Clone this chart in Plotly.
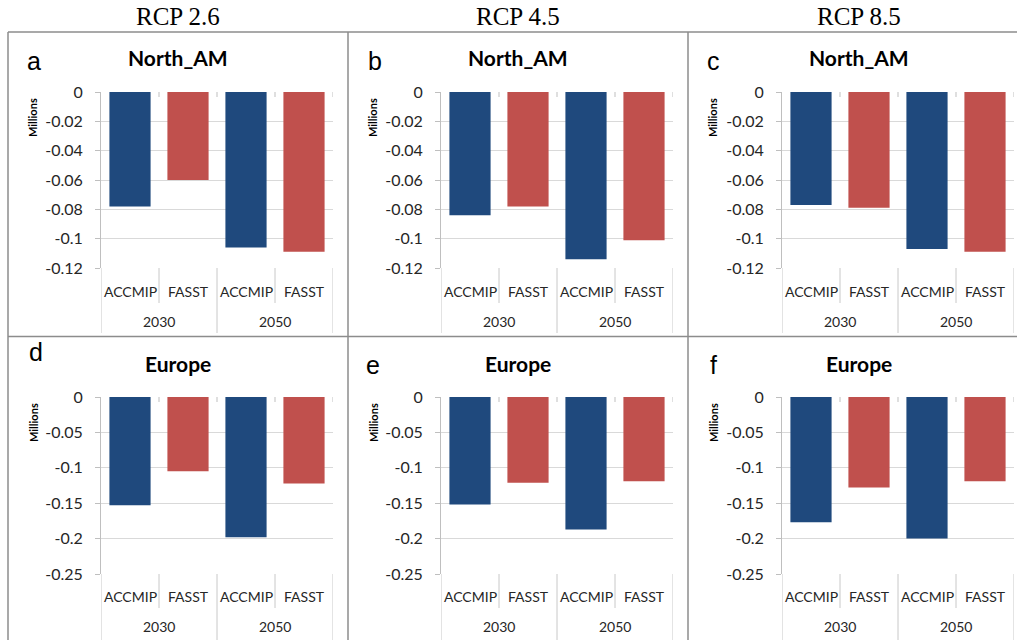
import plotly.graph_objects as go

# ---------------- data ----------------
scenarios = ["RCP 2.6", "RCP 4.5", "RCP 8.5"]
regions = ["North_AM", "Europe"]
panel_letters = ["a", "b", "c", "d", "e", "f"]
models = ["ACCMIP", "FASST"]
years = ["2030", "2050"]

# order within each panel: ACCMIP 2030, FASST 2030, ACCMIP 2050, FASST 2050
north_am_rcp26 = [-0.078, -0.060, -0.106, -0.109]
north_am_rcp45 = [-0.084, -0.078, -0.114, -0.101]
north_am_rcp85 = [-0.077, -0.079, -0.107, -0.109]
europe_rcp26 = [-0.153, -0.105, -0.198, -0.122]
europe_rcp45 = [-0.152, -0.121, -0.187, -0.119]
europe_rcp85 = [-0.177, -0.128, -0.200, -0.119]

north_ticks = [0, -0.02, -0.04, -0.06, -0.08, -0.1, -0.12]
north_ticktext = ["0", "-0.02", "-0.04", "-0.06", "-0.08", "-0.1", "-0.12"]
europe_ticks = [0, -0.05, -0.1, -0.15, -0.2, -0.25]
europe_ticktext = ["0", "-0.05", "-0.1", "-0.15", "-0.2", "-0.25"]

panel_values = [north_am_rcp26, north_am_rcp45, north_am_rcp85,
                europe_rcp26, europe_rcp45, europe_rcp85]

# ---------------- layout helpers ----------------
W, H = 1017, 640
def px(x):
    return x / W
def py(y):
    return 1 - y / H

BLUE = "#1F497D"
RED = "#C0504D"
colors = [BLUE, RED, BLUE, RED]
categories = [f"{y} {m}" for y in years for m in models]

col_left = [101, 441, 782]
plot_w = 232
row_top = [92, 397]
row_bot = [268, 574]
col_center = [178, 518, 859]

FONT = "Lato"
fig = go.Figure()
annotations = []
shapes = []

for i in range(6):
    r, c = divmod(i, 3)
    ax = "" if i == 0 else str(i + 1)
    xa, ya = "x" + ax, "y" + ax
    fig.add_trace(go.Bar(
        x=categories, y=panel_values[i], marker=dict(color=colors, line=dict(width=0)),
        xaxis=xa, yaxis=ya, showlegend=False, hoverinfo="x+y"))
    tv = north_ticks if r == 0 else europe_ticks
    tt = north_ticktext if r == 0 else europe_ticktext
    fig.layout["xaxis" + ax] = dict(
        domain=[px(col_left[c]), px(col_left[c] + plot_w)], anchor=ya,
        type="category", categoryorder="array", categoryarray=categories,
        range=[-0.5, 3.5], showticklabels=False, showgrid=False, zeroline=False,
        showline=False, ticks="", fixedrange=True, automargin=False)
    fig.layout["yaxis" + ax] = dict(
        domain=[py(row_bot[r]), py(row_top[r])], anchor=xa,
        range=[tv[-1], 0], tickvals=tv, ticktext=tt,
        showgrid=True, gridcolor="#D9D9D9", gridwidth=1, zeroline=False,
        showline=True, linecolor="#BFBFBF", linewidth=1,
        ticks="outside", ticklen=5, tickcolor="#BFBFBF",
        ticklabelstandoff=9, automargin=False,
        tickfont=dict(family=FONT, size=16, color="#262626"), fixedrange=True)

    # category tick marks at zero line (Excel horizontal axis crosses at 0)
    for k in [0.5, 1.5, 2.5, 3.5]:
        shapes.append(dict(type="line", xref=xa, yref=ya, x0=k, x1=k,
                           ysizemode="pixel", yanchor=0, y0=0, y1=-5,
                           line=dict(color="#BFBFBF", width=1)))
    # category dividers
    bot_ext = 333 if r == 0 else 640
    inner_ext = 303 if r == 0 else 608
    for k in [-0.5, 1.5, 3.5]:
        shapes.append(dict(type="line", xref=xa, yref="paper", x0=k, x1=k,
                           y0=py(row_bot[r]), y1=py(bot_ext),
                           line=dict(color="#C8C8C8", width=1)))
    for k in [0.5, 2.5]:
        shapes.append(dict(type="line", xref=xa, yref="paper", x0=k, x1=k,
                           y0=py(row_bot[r]), y1=py(inner_ext),
                           line=dict(color="#C8C8C8", width=1)))
    # category labels
    lab_y = 291 if r == 0 else 596
    yr_y = 321 if r == 0 else 626
    for cat, m in zip(categories, [m for y in years for m in models]):
        annotations.append(dict(xref=xa, yref="paper", x=cat, y=py(lab_y),
                                text=m, showarrow=False, xanchor="center", yanchor="middle",
                                font=dict(family=FONT, size=14, color="#262626")))
    for k, yr in zip([0.5, 2.5], years):
        annotations.append(dict(xref=xa, yref="paper", x=k, y=py(yr_y),
                                text=yr, showarrow=False, xanchor="center", yanchor="middle",
                                font=dict(family=FONT, size=14, color="#262626")))
    # panel title
    title_y = 58 if r == 0 else 363
    annotations.append(dict(xref="paper", yref="paper", x=px(col_center[c]), y=py(title_y),
                            text="<b>%s</b>" % regions[r], showarrow=False,
                            xanchor="center", yanchor="middle",
                            font=dict(family=FONT, size=21, color="black")))
    # Millions label
    mil_y = 118 if r == 0 else 423
    annotations.append(dict(xref="paper", yref="paper", x=px(33 + c * 340), y=py(mil_y),
                            text="<b>Millions</b>", textangle=-90, showarrow=False,
                            xanchor="center", yanchor="middle",
                            font=dict(family=FONT, size=11, color="black")))

# panel letters
letter_pos = [(34, 61), (375, 61), (713, 61), (36, 352), (373, 365), (713, 365)]
for (lx, ly), L in zip(letter_pos, panel_letters):
    annotations.append(dict(xref="paper", yref="paper", x=px(lx), y=py(ly), text=L,
                            showarrow=False, xanchor="center", yanchor="middle",
                            font=dict(family="Liberation Sans", size=25, color="black")))

# scenario headers
for cx, s in zip(col_center, scenarios):
    annotations.append(dict(xref="paper", yref="paper", x=px(cx), y=py(16), text=s,
                            showarrow=False, xanchor="center", yanchor="middle",
                            font=dict(family="Liberation Serif", size=25, color="black")))

# frame lines
FRAME = "#8C8C8C"
for yy in [32, 336.5]:
    shapes.append(dict(type="line", xref="paper", yref="paper", x0=px(8), x1=1,
                       y0=py(yy), y1=py(yy), line=dict(color=FRAME, width=1.5)))
for xx in [8, 348, 688]:
    shapes.append(dict(type="line", xref="paper", yref="paper", x0=px(xx), x1=px(xx),
                       y0=py(32), y1=0, line=dict(color=FRAME, width=1.5)))

fig.update_layout(width=W, height=H, margin=dict(l=0, r=0, t=0, b=0, autoexpand=False),
                  paper_bgcolor="white", plot_bgcolor="white",
                  bargap=0.29, annotations=annotations, shapes=shapes)

fig.write_html("out.html", config={"displayModeBar": False},
               post_script="document.body.style.margin='0';document.body.style.overflow='hidden';")
